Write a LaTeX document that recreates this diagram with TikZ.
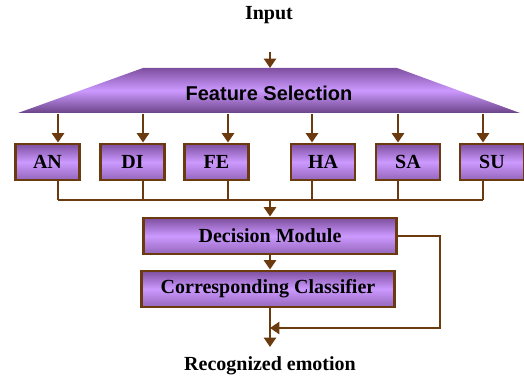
\documentclass[tikz,border=0pt]{standalone}
\usepackage{fontspec}
\setmainfont{Liberation Serif}
\newfontfamily\arialfont{Liberation Sans}
\usetikzlibrary{arrows.meta, calc, positioning}
\definecolor{lnbrown}{HTML}{6B3A0E}
\definecolor{pdark}{HTML}{7E4FA0}
\definecolor{plight}{HTML}{CC99FF}
\definecolor{pmid}{HTML}{9466BA}

\begin{document}
\begin{tikzpicture}[
    x=0.75pt, y=-0.75pt,
    >={Triangle[length=7pt, width=9pt]},
    every node/.style={text=black, font=\fontsize{15}{18}\selectfont\bfseries},
    emobox/.style={draw=lnbrown, line width=2.2pt, top color=pdark,
        bottom color=pmid, middle color=plight, minimum width=48pt,
        minimum height=27pt, inner sep=0pt},
    widebox/.style={emobox, minimum width=190pt},
    link/.style={line width=2pt, lnbrown},
  ]

  % Frame
  \useasboundingbox (0,0) rectangle (524,377);

  % Texts at top and bottom
  \node (in) at (269,15) {Input};
  \node (out) at (270,366) {Recognized emotion};

  % Feature selection
  \shade[top color=pdark, bottom color=pdark!85!black, middle color=plight]
    (143,68) -- (397,68) -- (520,113) -- (18,113) -- cycle;
  \node[font=\arialfont\fontsize{15}{18}\selectfont\bfseries]
        (fs) at (269,93) {Feature Selection};
  \coordinate (fstop) at (270,52);

  % Emotion boxes
  \node[emobox] (an) at (47.5,162) {AN};
  \node[emobox] (di) at (132.5,162) {DI};
  \node[emobox] (fe) at (216.5,162) {FE};
  \node[emobox] (ha) at (323,162) {HA};
  \node[emobox] (sa) at (408,162) {SA};
  \node[emobox] (su) at (492,162) {SU};

  % Decision and classifier
  \node[widebox] (dm) at (270,236) {Decision Module};
  \node[widebox] (cc) at (268,289) {Corresponding Classifier};

  % Input arrow
  \draw[link, ->] (fstop) -- (270,68);

  % Feature lines into the boxes, and the bus below them
  \coordinate (bus) at (270,200);
  \foreach \b/\x in {an/58, di/143, fe/228, ha/312, sa/398, su/483} {
    \draw[link, ->] (\x,114) -- (\x,0 |- \b.north);
    \draw[link] (\x,0 |- \b.south) -- (\x,200);
  }
  \draw[link] (58,200) -- (483,200);
  \draw[link, ->] (bus) -- (bus |- dm.north);

  % Decision module to classifier
  \draw[link, ->] (dm.south -| bus) -- (cc.north -| bus);

  % Classifier to output, with feedback path
  \coordinate (outtip) at (270,347);
  \coordinate (fb) at (440,328);
  \draw[link, ->] (cc.south -| bus) -- (outtip);
  \draw[link, ->] (dm.east) -| (fb) -- (fb -| outtip);

\end{tikzpicture}
\end{document}
